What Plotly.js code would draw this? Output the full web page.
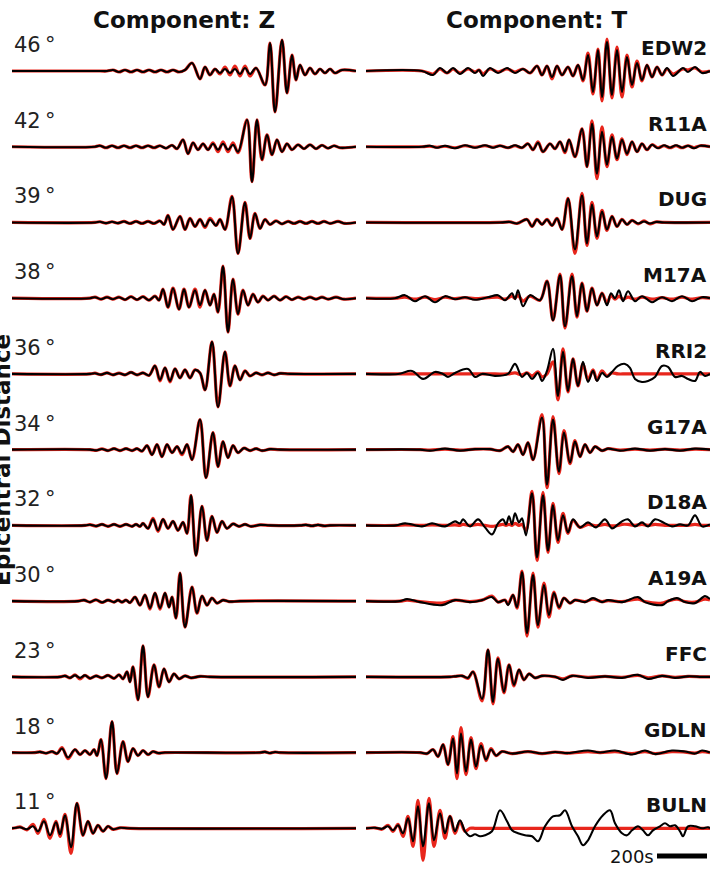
<!DOCTYPE html>
<html><head><meta charset="utf-8">
<script src="https://cdn.plot.ly/plotly-3.0.1.min.js"></script>
<style>html,body{margin:0;padding:0;background:#fff;overflow:hidden}#chart{width:714px;height:870px}</style>
</head><body><div id="chart"></div>
<script>
// Each record: [time (s), observed amplitude, synthetic amplitude]
const Z_EDW2=[[0,0,0],[352,0,0],[380,0,0],[404,1,1],[428,-1,-1],[452,1,1],[476,-1,-1],[500,1,1],[524,-1,-1],[548,1,1],[572,-1,-1],[596,1,1],[620,-1,-1],[644,1,1],[668,-1,-1],[692,1,1],[720,8,8],[752,-8,-8],[772,4,4],[792,-4,-4],[812,2,2],[832,-2,-3],[852,2,4],[872,-2,-4],[892,2,5],[912,-3,-5],[932,3,5],[952,-3,-5],[976,3,3],[1012,-14,-14],[1032,28,28],[1052,-41,-41],[1080,31,31],[1100,-22,-22],[1120,16,16],[1136,-9,-9],[1152,6,6],[1172,-4,-4],[1192,3,3],[1212,-3,-3],[1232,2,2],[1252,-2,-2],[1272,2,2],[1292,-2,-2],[1320,1,1],[1376,0,0]];
const Z_R11A=[[0,0,0],[332,0,0],[352,1,1],[376,-1,-1],[400,1,1],[424,-1,-1],[448,1,1],[472,-1,-1],[496,1,1],[520,-1,-1],[544,1,1],[568,-1,-1],[592,1,1],[616,-1.5,-1.5],[640,1.5,1.5],[660,-2,-2],[684,7,7],[704,-7,-7],[724,4,4],[744,-3,-3],[764,3,3],[784,-3,-3],[804,3,4],[824,-3,-5],[844,3,5],[864,-3,-5],[884,2,4],[904,-5,-6],[940,27,27],[960,-35,-35],[980,27,27],[1000,-13,-13],[1020,12,12],[1040,-8,-8],[1060,7,7],[1080,-5,-5],[1100,3,3],[1120,-3,-3],[1144,2,2],[1168,-2,-2],[1192,2,2],[1216,-2,-2],[1240,1.5,1.5],[1264,-1.5,-1.5],[1288,1,1],[1312,-1,-1],[1376,0,0]];
const Z_DUG=[[0,0,0],[332,0,0],[352,0.7,0.7],[376,-0.7,-0.7],[400,0.7,0.7],[424,-0.7,-0.7],[448,1,1],[472,-1,-1],[496,1,1],[520,-1,-1],[544,1,1],[568,-1,-1],[592,1.5,1.5],[608,-2,-2],[624,7,7],[644,-7,-7],[672,6,6],[692,-7,-7],[712,4,4],[732,-4,-4],[752,3,3],[772,-4,-5],[792,3,4],[816,-3,-3],[832,3,3],[852,-7,-7],[880,26,26],[904,-31,-31],[932,20,20],[952,-16,-16],[972,9,9],[992,-6,-6],[1012,3,3],[1032,-2,-2],[1056,1.5,1.5],[1080,-1.5,-1.5],[1104,1,1],[1128,-1,-1],[1152,1,1],[1176,-1,-1],[1200,1,1],[1224,-1,-1],[1248,1,1],[1272,-1,-1],[1304,1,1],[1332,-1,-1],[1376,0,0]];
const Z_M17A=[[0,0,0],[312,0,0],[332,1,1],[356,-1,-1],[380,1,1],[404,-1,-1],[428,1,1],[452,-1.5,-1.5],[476,1.5,1.5],[500,-1.5,-1.5],[524,1.5,1.5],[548,-2,-2],[572,2,2],[588,-2,-2],[604,9,9],[624,-9,-9],[644,10,10],[668,-11,-11],[688,9,9],[708,-9,-9],[732,8,9],[752,-7,-9],[772,8,8],[792,-7,-7],[808,4,4],[824,-14,-14],[844,32,32],[864,-34,-34],[884,19,19],[904,-16,-16],[924,8,8],[944,-7,-7],[964,4,4],[984,-4,-4],[1004,2,2],[1024,-2,-2],[1048,2,2],[1072,-2,-2],[1096,1.5,1.5],[1120,-1.5,-1.5],[1144,1,1],[1168,-1,-1],[1192,1,1],[1216,-1,-1],[1240,1,1],[1264,-1,-1],[1296,1,1],[1328,-1,-1],[1376,0,0]];
const Z_RRI2=[[0,0,0],[312,0,0],[332,0.7,0.7],[356,-0.7,-0.7],[380,1,1],[404,-1,-1],[428,0.7,0.7],[452,-1,-1],[476,1.5,1.5],[500,-1,-1],[524,1,1],[548,-1.5,-1.5],[572,8,8],[592,-6,-7],[612,6,6],[632,-7,-8],[652,5,5],[672,-4,-4],[692,4,4],[712,-4,-4],[732,4,4],[752,1,1],[772,-16,-16],[800,32,32],[824,-33,-33],[852,22,22],[872,-12,-12],[892,8,8],[912,-6,-6],[932,3,3],[952,-2,-2],[976,1,1],[1000,-1,-1],[1024,1,1],[1048,-1,-1],[1072,0.5,0.5],[1112,0,0],[1376,0,0]];
const Z_G17A=[[0,0,0],[312,0,0],[336,-0.7,-0.7],[360,0.7,0.7],[384,-1,-1],[408,1,1],[432,-1,-1],[456,1,1],[480,-1,-1],[500,1,1],[520,-1.5,-1.5],[540,4,4],[560,-5,-5],[580,5,5],[600,-7,-7],[620,5,5],[640,-3,-3],[660,3,3],[680,-4,-5],[700,5,5],[720,-10,-10],[752,30,30],[776,-28,-28],[804,17,17],[824,-17,-17],[844,8,8],[864,-8,-8],[884,4,4],[904,-3,-3],[928,1.5,1.5],[952,-1,-1],[976,1,1],[1000,-1,-1],[1032,0.5,0.5],[1072,0,0],[1376,0,0]];
const Z_D18A=[[0,0,0],[292,0,0],[312,0.7,0.7],[336,-0.7,-0.7],[360,1,1],[384,-1,-1],[408,1,1],[432,-1,-1],[456,1,1],[480,-1,-1],[496,1,1],[512,-1,-1],[524,2,2],[544,-3,-3],[564,6,7],[584,-5,-6],[604,6,6],[624,-3,-3],[644,4,4],[664,-5,-5],[684,3,3],[700,-8,-8],[716,30,30],[736,-30,-30],[760,19,19],[780,-15,-15],[800,9,9],[820,-7,-7],[840,4,4],[860,-3,-3],[884,1.5,1.5],[908,-1,-1],[932,1,1],[956,-1,-1],[992,0.5,0.5],[1032,0,0],[1152,0,0],[1176,0.5,0.5],[1200,-0.5,-0.5],[1224,0.5,0.5],[1248,-0.5,-0.5],[1272,0,0],[1376,0,0]];
const Z_A19A=[[0,0,0],[264,0,0],[288,1,1],[312,-1,-1],[336,1.3,1.3],[360,-1.3,-1.3],[384,1,1],[408,-1,-1],[424,1,1],[440,-1,-1],[456,1,1],[472,-1.5,-1.5],[492,4,4],[512,-4,-4],[532,6,6],[552,-7,-8],[572,8,8],[592,-7,-8],[612,8,8],[628,-6,-6],[640,4,4],[656,-17,-17],[672,28,28],[692,-26,-26],[720,14,14],[740,-12,-12],[760,5,5],[780,-4,-4],[800,3,3],[820,-2,-2],[844,1,1],[868,-0.5,-0.5],[912,0,0],[1376,0,0]];
const Z_FFC=[[0,0,0],[192,0,0],[212,1,1],[232,-1,-1],[252,1.5,2],[272,-1,-2],[292,1.5,1.5],[312,-1.5,-1.5],[336,1,1],[360,-1,-1],[384,1.5,1.5],[408,-1.5,-1.5],[428,2,2],[444,-2,-2],[460,5,5],[472,-5,-5],[484,10,10],[504,-23,-23],[524,31,31],[544,-20,-20],[568,12,12],[588,-10,-10],[608,8,8],[628,-5,-5],[648,3,3],[668,-2,-2],[692,1,1],[716,-1,-1],[752,0.5,0.5],[792,0,0],[1376,0,0]];
const Z_GDLN=[[0,0,0],[92,0,0],[112,0.7,0.7],[136,-0.7,-0.7],[160,1,1],[180,-1,-1],[200,4,5],[224,-5,-6],[252,3,3],[272,-2,-2],[292,2,2],[312,-2,-2],[328,3,3],[340,-3,-3],[356,13,13],[376,-26,-26],[400,31,31],[420,-21,-21],[444,11,11],[464,-9,-9],[484,4,4],[504,-3,-3],[524,2,2],[544,-2,-2],[564,1,1],[584,-0.5,-0.5],[612,0,0],[992,0,0],[1012,0.7,0.7],[1032,-0.5,-0.5],[1052,0.5,0.5],[1072,0,0],[1376,0,0]];
const Z_BULN=[[0,0,0],[16,0.5,0.5],[32,1,1.5],[60,-1,-1.5],[84,2,4],[104,-3,-5],[128,7,9],[152,-7,-10],[176,6,7],[192,-6,-8],[212,13,14],[236,-19,-25],[260,25,25],[284,-7,-7],[304,7,7],[324,-5,-5],[344,3,3],[364,-3,-3],[384,2,2],[404,-1,-1],[432,0.5,0.5],[472,0,0],[1376,0,0]];

const T_EDW2=[[0,0,0],[224,0,0],[268,-4,-3],[296,3,2],[324,-2,-2],[348,3,2],[376,-3,-2],[408,3,2],[436,-2,-1],[452,1,1],[468,-5,-3],[496,3,2],[528,-2,-1],[564,3,2],[596,-2,-1],[628,2,2],[656,-2,-2],[684,5,5],[704,-4,-4],[724,5,5],[744,-6,-8],[764,5,5],[784,-4,-4],[808,4,4],[828,-5,-5],[848,6,6],[868,-9,-10],[888,16,18],[908,-21,-23],[928,21,22],[944,-26,-30],[964,29,32],[984,-24,-27],[1004,21,24],[1024,-21,-26],[1044,14,16],[1064,-14,-16],[1084,8,10],[1104,-9,-10],[1124,6,6],[1144,-6,-6],[1164,4,4],[1184,-4,-4],[1204,3,2],[1228,-5,-3],[1268,3,2],[1288,-1,1],[1316,4,3],[1344,-2,-1],[1376,0,0]];
const T_R11A=[[0,0,0],[224,0,0],[256,1,0.5],[284,-1,-0.5],[316,1,0.5],[356,-1.5,-1],[396,1.5,1],[436,-1,-0.5],[476,1.5,1],[508,-1,-0.5],[536,1,1],[568,-1,-1],[596,1.5,1],[624,-1,-1],[648,3,3],[668,-3,-3],[688,4,5],[708,-5,-5],[736,3,3],[756,-2,-2],[776,5,5],[796,-5,-6],[812,7,7],[836,-10,-10],[864,18,18],[884,-20,-20],[904,23,26],[924,-27,-32],[944,15,20],[964,-18,-20],[984,10,12],[1004,-12,-13],[1024,7,8],[1044,-7,-8],[1064,5,5],[1084,-5,-5],[1104,3,3],[1124,-3,-3],[1144,2,2],[1168,-1.5,-1],[1192,1.5,1],[1216,-1,-1],[1240,1.5,1],[1264,-1,-1],[1288,1,1],[1312,-1.5,-1],[1336,1,1],[1376,0,0]];
const T_DUG=[[0,0,0],[536,0,0],[576,0.5,0.5],[604,-1,-1],[644,3,3],[664,-4,-4],[684,3,3],[704,-2,-2],[724,3,3],[744,-3,-3],[764,4,4],[784,-7,-7],[808,24,24],[836,-27,-31],[864,27,29],[884,-21,-23],[904,18,20],[924,-14,-16],[944,11,12],[964,-7,-8],[984,6,6],[1004,-4,-4],[1024,3,3],[1044,-2,-2],[1064,2,2],[1088,-1,-1.5],[1112,1,1.5],[1136,-1,-1.5],[1160,0.5,0.5],[1192,0,0],[1376,0,0]];
const T_M17A=[[0,0,0],[116,0,0],[156,3,1],[196,-3,-1],[236,2,1],[276,-4,-1.5],[316,2,1],[356,-1,-0.5],[396,1,0.5],[436,-1.5,-0.5],[488,1,0.5],[528,3,1],[556,-2,-1],[584,5,2],[596,-1,0],[608,8,3],[628,-8,-3],[656,3,2],[696,-2,-2],[724,17,17],[748,-22,-22],[776,23,24],[796,-28,-30],[824,22,24],[844,-18,-19],[864,15,15],[884,-13,-13],[904,10,10],[924,-7,-7],[944,5,5],[964,-7,-5],[980,5,3],[996,0,-1],[1012,8,2],[1028,-3,-1],[1048,7,1],[1076,-3,-1],[1104,2,1],[1144,-4,-1],[1184,1,0.5],[1224,-3,-1],[1264,2,1],[1304,-3,-1],[1344,1,0.5],[1376,0,0]];
const T_RRI2=[[0,0,0],[128,0,0],[184,3,0],[228,-5,0],[276,2,0],[308,0,0],[328,-3,0],[356,1,0],[408,5,0],[436,-3,0],[464,0,0],[516,-2,0],[568,0,0],[596,10,1],[624,-3,-1],[644,1,1],[664,-5,-2],[688,1,2],[704,-7,-3],[724,3,0],[748,25,12],[768,-22,-26],[788,22,25],[808,-17,-18],[828,15,15],[848,-12,-12],[868,12,10],[888,-8,-6],[908,3,4],[924,-7,-6],[944,1,3],[964,-3,-2],[984,2,1],[1008,8,0],[1036,10,0],[1056,6,0],[1076,-5,0],[1104,-8,0],[1128,-7,0],[1156,-3,0],[1184,8,0],[1208,7,0],[1236,-3,0],[1264,-2,0],[1288,-5,0],[1316,-7,0],[1336,2,0],[1356,-2,0],[1376,0,0]];
const T_G17A=[[0,0,0],[216,0,0],[256,-1,-0.5],[316,1,0.5],[376,-1,-0.5],[436,0.5,0.5],[496,0.5,0.5],[536,-1,-1],[568,3,3],[588,-2,-2],[608,5,5],[628,-5,-5],[648,7,7],[668,-10,-10],[704,32,35],[724,-35,-38],[748,30,33],[772,-22,-24],[792,17,19],[816,-13,-14],[836,8,9],[856,-7,-7],[876,5,5],[896,-3,-3],[916,3,3],[944,-1,-1],[968,1,1],[1016,-1,-0.5],[1076,1,0.5],[1136,-1,-0.5],[1196,0.5,0.5],[1256,-1,-0.5],[1316,1,0.5],[1376,0,0]];
const T_D18A=[[0,0,0],[120,0,0],[156,2,0.5],[224,-1,0],[264,2,0.5],[316,-1,0],[356,4,0.5],[376,2,0],[388,6,1],[416,-1,0],[448,6,1],[476,-2,0],[504,-9,-1],[528,2,0],[548,6,1],[560,1,0],[572,9,1],[584,1,0],[596,12,2],[612,3,0],[624,7,1],[640,-10,-5],[664,32,34],[684,-32,-35],[708,30,33],[728,-25,-27],[748,20,22],[768,-15,-17],[788,10,12],[808,-7,-8],[828,6,5],[856,-2,-2],[888,3,1],[920,-2,-0.5],[956,6,1],[984,-3,-0.5],[1008,1,0],[1024,4,1],[1048,6,1],[1076,-1,0],[1104,3,1],[1128,-1,0],[1156,6,1],[1196,2,0],[1224,-1,0],[1256,1,0],[1288,0,0],[1316,10,1],[1344,-1,0],[1376,1,0]];
const T_A19A=[[0,0,0],[136,0,0],[164,2,1],[216,-1,-0.5],[304,-4,-2],[356,1,1],[416,-1,-0.5],[464,1,1],[504,4,5],[528,-1,-1],[556,1,1],[568,-4,-3],[588,6,6],[604,-6,-7],[624,29,30],[644,-32,-35],[668,26,28],[688,-24,-26],[712,16,18],[732,-14,-16],[752,8,9],[772,-6,-7],[792,3,3],[816,-2,-2],[836,1,1],[876,-1,-0.5],[908,3,2],[944,-1,-0.5],[968,1,0.5],[1024,-1,-0.5],[1088,4,2],[1116,-1,-0.5],[1184,-4,-2],[1208,0,0],[1244,3,2],[1276,-1,-0.5],[1316,-2,-1],[1356,5,2],[1376,2,1]];
const T_FFC=[[0,0,0],[336,0,0],[356,0.5,0.5],[384,1,1],[408,-1,-1.5],[428,5,5],[464,-22,-24],[488,27,27],[508,-25,-27],[528,18,19],[552,-15,-16],[572,12,12],[592,-8,-9],[612,7,7],[632,-3,-3],[652,3,3],[676,-1,-1],[704,1,1],[756,0,0],[788,-3,-2],[824,1,1],[888,-1,-0.5],[956,0.5,0.5],[1024,-1,-0.5],[1088,2,1.5],[1128,-2,-1],[1184,1,1],[1236,-1,-0.5],[1288,0.5,0.5],[1344,0,0],[1376,0,0]];
const T_GDLN=[[0,0,0],[216,0,0],[244,-1,-1],[268,3,3],[288,-4,-4],[308,8,8],[328,-12,-12],[348,14,16],[364,-21,-26],[380,19,25],[400,-19,-22],[420,13,15],[440,-14,-16],[460,7,9],[480,-7,-8],[500,3,4],[520,-3,-3],[544,1,1],[584,-1,-1],[648,1,1],[704,-1,-1],[756,0.5,0.5],[808,-0.5,-0.5],[888,2,1],[936,0,0],[996,2,1],[1064,-2,-1],[1116,2,1],[1156,-1.5,-1],[1224,2,1],[1276,1,0.5],[1316,-1,-0.5],[1344,2,1],[1376,0,0]];
const T_BULN=[[0,0,0],[36,0.5,0.5],[64,-0.5,-1],[88,2,3],[108,-2,-3],[128,3,4],[148,-5,-8],[168,10,12],[188,-13,-18],[208,22,28],[228,-18,-32],[252,25,30],[272,-12,-18],[296,15,18],[316,-5,-10],[336,12,12],[356,-3,-5],[376,8,7],[396,-3,-3],[416,-8,0],[436,-6,0],[456,-8,0],[476,-7,0],[504,-3,0],[536,18,0],[564,7,0],[584,-2,0],[608,-5,0],[636,-7,0],[664,-8,0],[688,-13,0],[716,2,0],[748,12,0],[776,13,0],[796,18,0],[824,2,0],[848,-8,0],[868,-17,0],[888,-12,0],[916,2,0],[948,13,0],[976,18,0],[996,5,0],[1024,-5,0],[1044,-7,0],[1064,-2,0],[1088,2,0],[1108,-2,0],[1128,-7,0],[1148,-2,0],[1176,2,0],[1196,5,0],[1216,2,0],[1236,3,0],[1256,-3,0],[1268,-8,0],[1288,2,0],[1316,2,0],[1344,0,0],[1368,1,0],[1376,0,0]];

const distances=[46,42,39,38,36,34,32,30,23,18,11];
const stations=['EDW2','R11A','DUG','M17A','RRI2','G17A','D18A','A19A','FFC','GDLN','BULN'];
const componentZ=[Z_EDW2,Z_R11A,Z_DUG,Z_M17A,Z_RRI2,Z_G17A,Z_D18A,Z_A19A,Z_FFC,Z_GDLN,Z_BULN];
const componentT=[T_EDW2,T_R11A,T_DUG,T_M17A,T_RRI2,T_G17A,T_D18A,T_A19A,T_FFC,T_GDLN,T_BULN];
const scaleBarSeconds=200;
const windowSeconds=1376;

const W=714,H=870,ROW0=71,STEP=75.73;
const RED='#e8261c';
const traces=[];
function addRow(data,i,xa){
  const base=-(ROW0+STEP*i);
  const t=data.map(d=>d[0]);
  traces.push({x:t,y:data.map(d=>base+d[2]),xaxis:xa,yaxis:'y',mode:'lines',hoverinfo:'skip',
    line:{color:RED,width:3.2,shape:'spline',smoothing:1}});
  traces.push({x:t,y:data.map(d=>base+d[1]),xaxis:xa,yaxis:'y',mode:'lines',hoverinfo:'skip',
    line:{color:'#000',width:2.1,shape:'spline',smoothing:1}});
}
componentZ.forEach((d,i)=>addRow(d,i,'x'));
componentT.forEach((d,i)=>addRow(d,i,'x2'));

const ann=[];
const font='DejaVu Sans, Verdana, sans-serif';
distances.forEach((d,i)=>{
  ann.push({xref:'paper',yref:'y',x:12/W,y:-(ROW0+STEP*i-26),xanchor:'left',yanchor:'middle',
    text:d+'\u2009\u00b0',showarrow:false,font:{family:font,size:21,color:'#222'}});
});
stations.forEach((s,i)=>{
  ann.push({xref:'paper',yref:'y',x:709/W,y:-(ROW0+STEP*i-23),xanchor:'right',yanchor:'middle',
    text:'<b>'+s+'</b>',showarrow:false,font:{family:font,size:20,color:'#111'}});
});
ann.push({xref:'paper',yref:'paper',x:184/W,y:1-20/H,xanchor:'center',yanchor:'middle',text:'<b>Component: Z</b>',showarrow:false,font:{family:font,size:23,color:'#111'}});
ann.push({xref:'paper',yref:'paper',x:536/W,y:1-20/H,xanchor:'center',yanchor:'middle',text:'<b>Component: T</b>',showarrow:false,font:{family:font,size:23,color:'#111'}});
ann.push({xref:'paper',yref:'paper',x:2/W,y:1-460/H,xanchor:'center',yanchor:'middle',textangle:-90,text:'<b>Epicentral Distance</b>',showarrow:false,font:{family:font,size:23,color:'#111'}});
const barEnd=windowSeconds-12;
ann.push({xref:'x2',yref:'y',x:barEnd-scaleBarSeconds-3,y:-856,xanchor:'right',yanchor:'middle',text:scaleBarSeconds+'s',showarrow:false,font:{family:font,size:18,color:'#111'}});

const ax={showgrid:false,zeroline:false,showticklabels:false,showline:false,ticks:'',fixedrange:true};
const layout={width:W,height:H,margin:{l:0,r:0,t:0,b:0},paper_bgcolor:'#fff',plot_bgcolor:'#fff',showlegend:false,
  xaxis:Object.assign({domain:[12/W,356/W],range:[0,windowSeconds],anchor:'y'},ax),
  xaxis2:Object.assign({domain:[366/W,710/W],range:[0,windowSeconds],anchor:'y'},ax),
  yaxis:Object.assign({domain:[0,1],range:[-H,0]},ax),
  annotations:ann,
  shapes:[{type:'line',xref:'x2',yref:'y',x0:barEnd-scaleBarSeconds,x1:barEnd,y0:-856,y1:-856,line:{color:'#000',width:5}}]
};
Plotly.newPlot('chart',traces,layout,{staticPlot:true,displayModeBar:false});
</script></body></html>
